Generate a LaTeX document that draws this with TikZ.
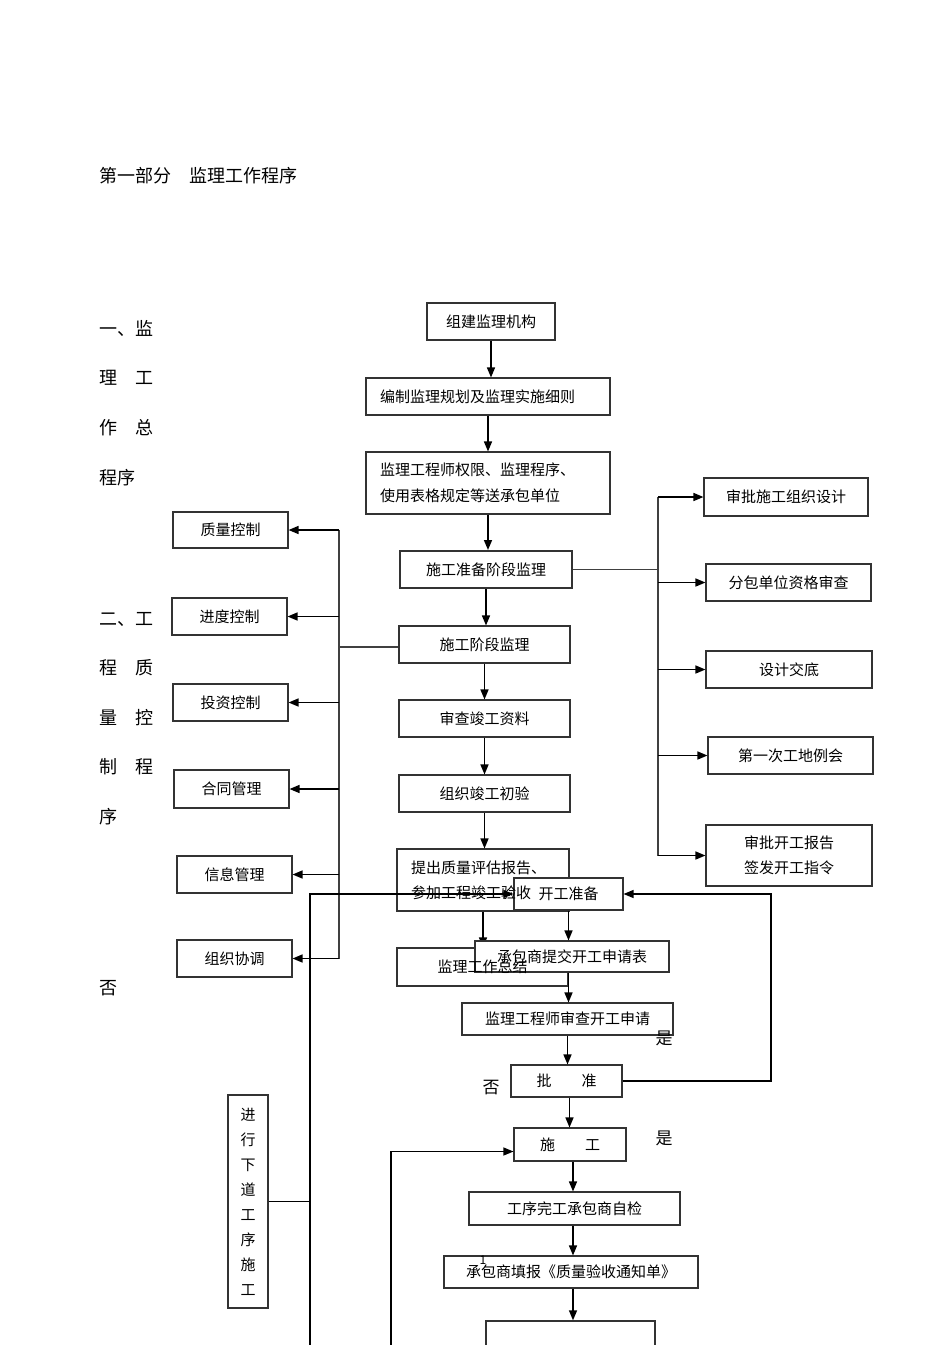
\documentclass[tikz,border=0pt]{standalone}
\usepackage{fontspec}
\setmainfont{Noto Sans CJK SC}
\usetikzlibrary{arrows.meta}

\begin{document}
\begin{tikzpicture}[x=1pt, y=-1pt, >={Triangle[length=10pt, width=8pt]},
    box/.style={draw=black!80, line width=1.1pt, fill=white, inner sep=0pt, font=\fontsize{15}{19}\selectfont},
    txt/.style={inner sep=0pt, font=\fontsize{15}{25}\selectfont},
    lbl/.style={inner sep=0pt, anchor=west, font=\fontsize{18}{20}\selectfont},
    arr/.style={->, line width=1.5pt},
    trunk/.style={line width=1.2pt, black!75}]
    \useasboundingbox (0,0) rectangle (950,1345);
    \clip (0,0) rectangle (950,1345);

    % text down the left margin
    \node[lbl] (title) at (99,176) {第一部分　监理工作程序};
    \node[lbl] (a1) at (99,328) {一、监};
    \node[lbl] (a2) at (99,378) {理　工};
    \node[lbl] (a3) at (99,428) {作　总};
    \node[lbl] (a4) at (99,478) {程序};
    \node[lbl] (b1) at (99,619) {二、工};
    \node[lbl] (b2) at (99,668) {程　质};
    \node[lbl] (b3) at (99,718) {量　控};
    \node[lbl] (b4) at (99,767) {制　程};
    \node[lbl] (b5) at (99,817) {序};
    \node[lbl] (no1) at (99,988) {否};

    % main column
    \node[box, minimum width=128pt, minimum height=37pt] (jg) at (491,321.5) {组建监理机构};
    \node[box, minimum width=244pt, minimum height=37pt, text width=216pt, align=left] (gh) at (488,396.5) {编制监理规划及监理实施细则};
    \node[box, minimum width=244pt, minimum height=62pt, text width=216pt, align=left, font=\fontsize{15}{26}\selectfont] (qx) at (488,483) {监理工程师权限、监理程序、\\使用表格规定等送承包单位};
    \node[box, minimum width=172pt, minimum height=37pt, line width=2pt] (zb) at (486,569.5) {施工准备阶段监理};
    \node[box, minimum width=171pt, minimum height=37pt] (sj) at (484.5,644.5) {施工阶段监理};
    \node[box, minimum width=171pt, minimum height=37pt] (sc) at (484.5,718.5) {审查竣工资料};
    \node[box, minimum width=171pt, minimum height=37pt] (cy) at (484.5,793.5) {组织竣工初验};
    \node[box, minimum width=172pt, minimum height=62pt] (pg) at (483,880) {};
    \node[box, minimum width=171pt, minimum height=38pt] (zj) at (482.5,967) {};
    \draw[arr] (jg.south) -- (jg.south |- gh.north);
    \draw[arr] (gh.south) -- (gh.south |- qx.north);
    \draw[arr] (qx.south) -- (qx.south |- zb.north);
    \draw[arr] (zb.south) -- (zb.south |- sj.north);
    \draw[arr] (sj.south) -- (sj.south |- sc.north);
    \draw[arr] (sc.south) -- (sc.south |- cy.north);
    \draw[arr] (cy.south) -- (cy.south |- pg.north);
    \draw[arr] (pg.south) -- (pg.south |- zj.north);

    % right branch
    \node[box, minimum width=164pt, minimum height=38pt] (r1) at (786,497) {审批施工组织设计};
    \node[box, minimum width=165pt, minimum height=37pt] (r2) at (788.5,582.5) {分包单位资格审查};
    \node[box, minimum width=166pt, minimum height=37pt] (r3) at (789,669.5) {设计交底};
    \node[box, minimum width=165pt, minimum height=37pt] (r4) at (790.5,755.5) {第一次工地例会};
    \node[box, minimum width=166pt, minimum height=61pt, align=center, font=\fontsize{15}{25}\selectfont] (r5) at (789,855.5) {审批开工报告\\签发开工指令};
    \coordinate (rb) at (658,569.5);
    \draw[trunk] (zb.east) -- (rb);
    \draw[trunk] (r1.west -| rb) -- (r5.west -| rb);
    \draw[arr] (r1.west -| rb) -- (r1.west);
    \draw[arr] (r2.west -| rb) -- (r2.west);
    \draw[arr] (r3.west -| rb) -- (r3.west);
    \draw[arr] (r4.west -| rb) -- (r4.west);
    \draw[arr] (r5.west -| rb) -- (r5.west);

    % left branch
    \node[box, minimum width=115pt, minimum height=36pt] (l1) at (230.5,530) {质量控制};
    \node[box, minimum width=115pt, minimum height=37pt] (l2) at (229.5,616.5) {进度控制};
    \node[box, minimum width=115pt, minimum height=37pt] (l3) at (230.5,702.5) {投资控制};
    \node[box, minimum width=115pt, minimum height=38pt] (l4) at (231.5,789) {合同管理};
    \node[box, minimum width=115pt, minimum height=37pt] (l5) at (234.5,874.5) {信息管理};
    \node[box, minimum width=115pt, minimum height=37pt] (l6) at (234.5,958.5) {组织协调};
    \coordinate (lb) at (339,647);
    \draw[trunk] (sj.west |- lb) -- (lb);
    \draw[trunk] (l1.east -| lb) -- (l6.east -| lb);
    \draw[arr] (l1.east -| lb) -- (l1.east);
    \draw[arr] (l2.east -| lb) -- (l2.east);
    \draw[arr] (l3.east -| lb) -- (l3.east);
    \draw[arr] (l4.east -| lb) -- (l4.east);
    \draw[arr] (l5.east -| lb) -- (l5.east);
    \draw[arr] (l6.east -| lb) -- (l6.east);

    % start of works, laid over the column
    \node[box, minimum width=109pt, minimum height=32pt] (kg) at (568.5,894) {开工准备};
    \node[box, minimum width=194pt, minimum height=31pt] (tj) at (572,956.5) {承包商提交开工申请表};
    \node[txt, anchor=west, align=left] (pgt) at (411,880) {提出质量评估报告、\\参加工程竣工验收};
    \node[txt] (zjt) at (zj) {监理工作总结};
    \node[box, minimum width=211pt, minimum height=32pt] (sk) at (567.5,1019) {监理工程师审查开工申请};
    \node[box, minimum width=111pt, minimum height=32pt] (pz) at (566.5,1081) {批　　准};
    \node[box, minimum width=112pt, minimum height=33pt] (sg) at (570,1144.5) {施　　工};
    \node[box, minimum width=211pt, minimum height=33pt] (zjc) at (574.5,1208.5) {工序完工承包商自检};
    \node[box, minimum width=254pt, minimum height=32pt] (tb) at (571,1272) {承包商填报《质量验收通知单》};
    \node[box, minimum width=169pt, minimum height=60pt, line width=1.4pt] (ys) at (570.5,1351) {};
    \node[box, minimum width=40pt, minimum height=213pt, align=center, font=\fontsize{15}{25}\selectfont] (xd) at (248,1201.5) {进\\行\\下\\道\\工\\序\\施\\工};
    \draw[arr] (kg.south) -- (kg.south |- tj.north);
    \draw[arr] (kg.south |- tj.south) -- (kg.south |- sk.north);
    \draw[arr] (sk.south) -- (sk.south |- pz.north);
    \draw[arr] ([xshift=3pt]pz.south) -- ([xshift=3pt]pz.south |- sg.north);
    \draw[arr] ([xshift=3pt]sg.south) -- ([xshift=3pt]sg.south |- zjc.north);
    \draw[arr] ([xshift=-1.5pt]zjc.south) -- ([xshift=-1.5pt]zjc.south |- tb.north);
    \draw[arr] ([xshift=2pt]tb.south) -- ([xshift=2pt]tb.south |- ys.north);
    \coordinate (rt) at (771,1081);
    \draw[arr, line width=1.2pt] (pz.east) -- (rt) |- (kg.east);
    \coordinate (lp) at (310,1345);
    \draw[arr, line width=1.2pt] (lp) |- (kg.west);
    \draw[line width=1.2pt] (xd.east) -- (xd.east -| lp);
    \coordinate (lq) at (391,1345);
    \draw[arr, line width=1.2pt] (lq) |- ([yshift=-7pt]sg.west);

    \node[inner sep=0pt, font=\fontsize{17}{20}\selectfont] (yes1) at (664,1038) {是};
    \node[inner sep=0pt, font=\fontsize{17}{20}\selectfont] (no2) at (491,1088) {否};
    \node[inner sep=0pt, font=\fontsize{17}{20}\selectfont] (yes2) at (664,1138) {是};
    \node[inner sep=0pt, font=\fontsize{12}{14}\selectfont] (n1) at (483,1260) {1};
\end{tikzpicture}
\end{document}
